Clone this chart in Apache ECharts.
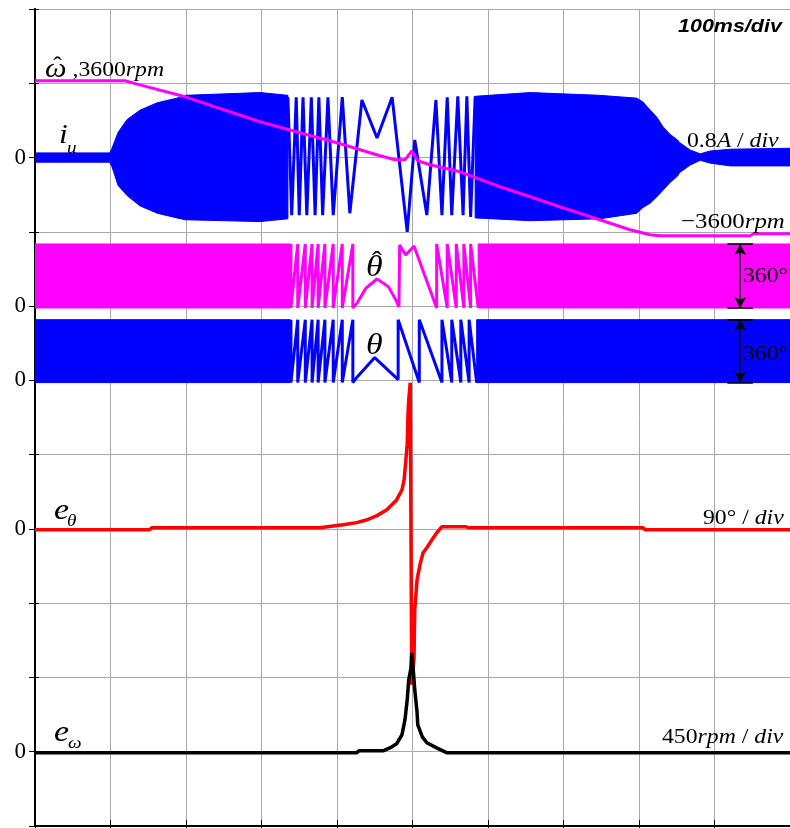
<!DOCTYPE html>
<html>
<head>
<meta charset="utf-8">
<script src="https://cdn.jsdelivr.net/npm/echarts@6/dist/echarts.min.js"></script>
<style>
html, body { margin: 0; padding: 0; background: #fff; }
#chart { width: 790px; height: 828px; }
</style>
</head>
<body>
<div id="chart"></div>
<script>
// time axis in ms, 100 ms/div

// i_u [A], dense part drawn as envelope
var iuLeftT = [0, 99, 102, 110, 122, 139, 162, 188, 199, 298, 335];
var iuLeftHi = [0.05, 0.05, 0.10, 0.27, 0.41, 0.51, 0.59, 0.64, 0.67, 0.70, 0.67];
var iuLeftLo = [-0.05, -0.05, -0.10, -0.30, -0.41, -0.52, -0.60, -0.65, -0.67, -0.69, -0.66];
var iuMidT = [335, 340, 346, 350, 355, 360, 366, 371, 376, 381, 388, 395, 407, 417, 433, 453, 473, 493, 503, 519, 531, 539, 546, 552, 560, 567, 572, 577, 583];
var iuMidV = [0.65, -0.62, 0.65, -0.62, 0.65, -0.62, 0.65, -0.62, 0.65, -0.62, 0.65, -0.62, 0.65, -0.60, 0.62, 0.21, 0.65, -0.80, 0.19, -0.62, 0.62, -0.62, 0.65, -0.62, 0.66, -0.62, 0.66, -0.64, 0.66];
var iuRightT = [583, 656, 748, 797, 805, 815, 824, 832, 841, 851, 854, 868, 881, 894, 921, 1000];
var iuRightHi = [0.66, 0.70, 0.67, 0.64, 0.60, 0.51, 0.43, 0.33, 0.25, 0.19, 0.16, 0.08, 0.04, 0.07, 0.09, 0.10];
var iuRightLo = [-0.65, -0.68, -0.66, -0.60, -0.54, -0.49, -0.42, -0.35, -0.27, -0.20, -0.16, -0.08, -0.03, -0.06, -0.09, -0.09];

// estimated speed [rpm]
var wT = [0, 119, 139, 199, 298, 351, 400, 457, 477, 490, 499, 507, 523, 563, 616, 656, 695, 748, 788, 815, 828, 947, 952, 1000];
var wV = [3600, 3600, 3410, 2855, 1695, 1184, 720, 116, -70, -70, 348, -116, -302, -627, -1323, -1788, -2252, -2855, -3320, -3552, -3600, -3600, -3505, -3505];

// estimated angle [deg]
var thHatLeftT = [0, 338];
var thHatRightT = [587, 1000];
var thHatMidT = [339, 339, 348, 348, 358, 358, 367, 367, 375, 375, 384, 384, 395, 395, 407, 407, 421, 421, 427, 438, 453, 468, 478, 482, 483, 491, 502, 532, 532, 546, 546, 558, 558, 568, 568, 577, 577, 587];
var thHatMidV = [360, 0, 360, 0, 360, 0, 360, 0, 360, 0, 360, 0, 360, 0, 360, 0, 360, 0, 30, 110, 163, 120, 45, 5, 354, 298, 349, 0, 360, 0, 360, 0, 360, 0, 360, 0, 360, 0];

// real angle [deg]
var thLeftT = [0, 338];
var thRightT = [585, 1000];
var thMidT = [339, 339, 348, 348, 358, 358, 367, 367, 375, 375, 384, 384, 395, 395, 407, 407, 421, 421, 427, 450, 481, 481, 509, 509, 539, 539, 552, 552, 564, 564, 575, 575, 585];
var thMidV = [360, 0, 360, 0, 360, 0, 360, 0, 360, 0, 360, 0, 360, 0, 360, 0, 360, 0, 34, 143, 17, 360, 0, 360, 0, 360, 0, 360, 0, 360, 0, 360, 0];

// angle error [deg]
var eThT = [0, 152, 155, 377, 408, 426, 440, 453, 466, 479, 486, 489, 491, 493, 494, 495, 497, 498, 499, 502, 503, 506, 510, 514, 519, 526, 532, 539, 570, 574, 805, 808, 1000];
var eThV = [0, 0, 2.4, 2.4, 6, 8.5, 12, 17, 24, 36, 48, 61, 82, 103, 139, 157, 178, 178, -188, -157, -97, -61, -42, -28, -22, -12, -4, 3.6, 3.6, 2.4, 2.4, 0, 0];

// speed error [rpm]
var eWT = [0, 426, 429, 461, 470, 479, 486, 490, 493, 495, 498, 499, 501, 503, 506, 507, 513, 519, 532, 543, 546, 1000];
var eWV = [0, 0, 12, 12, 30, 55, 109, 200, 321, 442, 515, 606, 503, 382, 248, 170, 97, 61, 30, 6, 0, 0];

// zero level of each trace (in divisions from the bottom) and units per division
var zeroLvl = { iu: 9, w: 8.99, thH: 6.975, th: 5.97, eTh: 3.99, eW: 0.985 };
var perDiv = { iu: 0.8, w: 3450, thH: 418, th: 425, eTh: 90, eW: 450 };

function toDiv (v, k) { return zeroLvl[k] + v / perDiv[k] }
function pts (T, V, k) { return T.map(function (t, i) { return [t, toDiv(V[i], k)] }) }
function fill (n, v) { var a = []; for (var i = 0; i < n; i++) a.push(v); return a }

function band (T, hi, lo, k, color) {
  return {
    type: 'custom',
    silent: true,
    clip: true,
    data: [[T[0], zeroLvl[k]]],
    renderItem: function (params, api) {
      var p = []
      for (var i = 0; i < T.length; i++) p.push(api.coord([T[i], toDiv(hi[i], k)]))
      for (var j = T.length - 1; j >= 0; j--) p.push(api.coord([T[j], toDiv(lo[j], k)]))
      return { type: 'polygon', shape: { points: p }, style: { fill: color, stroke: color, lineWidth: 1 } }
    }
  }
}

function trace (data, color, w, extra) {
  var s = {
    type: 'line',
    data: data,
    symbol: 'none',
    silent: true,
    lineStyle: { color: color, width: w },
    animation: false
  }
  if (extra) s.markLine = extra
  return s
}

var BLUE = '#0000ff'
var PINK = '#ff00ff'
var RED = '#ff0000'

// 360 degree arrows
var arrX = 934
var barX = [917, 951]
var arrows = {
  silent: true,
  symbol: ['arrow', 'arrow'],
  symbolSize: [9, 11],
  label: { show: false },
  lineStyle: { color: '#000', width: 1.5, type: 'solid' },
  data: [
    [{ coord: [arrX, toDiv(0, 'thH')] }, { coord: [arrX, toDiv(360, 'thH')] }],
    [{ coord: [arrX, toDiv(0, 'th')] }, { coord: [arrX, toDiv(360, 'th')] }],
    [{ coord: [barX[0], toDiv(0, 'thH')], symbol: 'none' }, { coord: [barX[1], toDiv(0, 'thH')], symbol: 'none' }],
    [{ coord: [barX[0], toDiv(360, 'thH')], symbol: 'none' }, { coord: [barX[1], toDiv(360, 'thH')], symbol: 'none' }],
    [{ coord: [barX[0], toDiv(0, 'th')], symbol: 'none' }, { coord: [barX[1], toDiv(0, 'th')], symbol: 'none' }],
    [{ coord: [barX[0], toDiv(360, 'th')], symbol: 'none' }, { coord: [barX[1], toDiv(360, 'th')], symbol: 'none' }]
  ]
}

var SERIF = '"Liberation Serif", "Times New Roman", Times, serif'
var SANS = '"Liberation Sans", Arial, sans-serif'
var SX = 1.13
function txt (x, y, text, size, opt) {
  opt = opt || {}
  return {
    type: 'text',
    x: x,
    y: y,
    scaleX: SX,
    silent: true,
    z: 100,
    style: {
      text: text,
      fontFamily: opt.family || SERIF,
      fontSize: size,
      fontStyle: opt.italic ? 'italic' : 'normal',
      fontWeight: opt.bold ? 'bold' : 'normal',
      fill: '#000',
      verticalAlign: 'middle',
      rich: {
        i: { fontFamily: opt.family || SERIF, fontSize: size, fontStyle: 'italic' },
        w: { fontFamily: SERIF, fontSize: 27, fontStyle: 'italic' }
      }
    }
  }
}

var zeroLabels = [1, 4, 6, 7, 9]

var myChart = echarts.init(document.getElementById('chart'))
var option = {
  animation: false,
  backgroundColor: '#fff',
  grid: { left: 35, right: 0, top: 9, bottom: 2 },
  xAxis: [
    {
      type: 'value',
      min: 0,
      max: 1000,
      interval: 100,
      position: 'top',
      axisLine: { show: true, lineStyle: { color: '#000', width: 2 } },
      axisTick: { show: true, inside: true, length: 4, lineStyle: { color: '#000' } },
      axisLabel: { show: false },
      splitLine: { show: true, lineStyle: { color: '#a8a8a8', width: 1 } }
    },
    {
      type: 'value',
      min: 0,
      max: 1000,
      interval: 100,
      position: 'bottom',
      axisLine: { show: false },
      axisTick: { show: true, inside: true, length: 6, lineStyle: { color: '#000' } },
      axisLabel: { show: false },
      splitLine: { show: false }
    }
  ],
  yAxis: [
    {
      type: 'value',
      min: 0,
      max: 11,
      interval: 1,
      axisLine: { show: true, lineStyle: { color: '#000', width: 2 } },
      axisTick: { show: true, inside: true, length: 4, lineStyle: { color: '#000' } },
      axisLabel: {
        margin: 9,
        color: '#000',
        fontFamily: SERIF,
        fontSize: 23,
        formatter: function (v) { return zeroLabels.indexOf(v) >= 0 ? '0' : '' }
      },
      splitLine: { show: true, lineStyle: { color: '#a8a8a8', width: 1 } }
    },
    {
      type: 'value',
      min: 0,
      max: 11,
      interval: 1,
      position: 'right',
      axisLine: { show: true, lineStyle: { color: '#000', width: 2 } },
      axisTick: { show: true, inside: true, length: 6, lineStyle: { color: '#000' } },
      axisLabel: { show: false },
      splitLine: { show: false }
    }
  ],
  series: [
    band(iuLeftT, iuLeftHi, iuLeftLo, 'iu', BLUE),
    band(iuRightT, iuRightHi, iuRightLo, 'iu', BLUE),
    trace(pts(iuMidT, iuMidV, 'iu'), BLUE, 3),
    trace(pts(wT, wV, 'w'), PINK, 3),
    band(thHatLeftT, fill(2, 360), fill(2, 0), 'thH', PINK),
    band(thHatRightT, fill(2, 360), fill(2, 0), 'thH', PINK),
    trace(pts(thHatMidT, thHatMidV, 'thH'), PINK, 3, arrows),
    band(thLeftT, fill(2, 360), fill(2, 0), 'th', BLUE),
    band(thRightT, fill(2, 360), fill(2, 0), 'th', BLUE),
    trace(pts(thMidT, thMidV, 'th'), BLUE, 3),
    trace(pts(eThT, eThV, 'eTh'), RED, 3.5),
    trace(pts(eWT, eWV, 'eW'), '#000', 3.5)
  ],
  graphic: [
    txt(45, 70, '{w|ω} ,3600{i|rpm}', 21),
    txt(53, 67, 'ˆ', 24),
    txt(59, 136, 'i', 28, { italic: true }),
    txt(67, 149, 'u', 17, { italic: true }),
    txt(678, 27, '100ms/div', 19, { family: SANS, italic: true, bold: true }),
    txt(687, 141, '0.8{i|A} / {i|div}', 21),
    txt(681, 222, '−3600{i|rpm}', 22),
    txt(366, 268, 'θ', 30, { italic: true }),
    txt(372, 262, 'ˆ', 26),
    txt(366, 346, 'θ', 30, { italic: true }),
    txt(743, 276, '360°', 21),
    txt(743, 354, '360°', 21),
    txt(54, 511, 'e', 30, { italic: true }),
    txt(67, 522, 'θ', 17, { italic: true }),
    txt(703, 518, '90° / {i|div}', 21),
    txt(54, 733, 'e', 30, { italic: true }),
    txt(68, 744, 'ω', 17, { italic: true }),
    txt(662, 737, '450{i|rpm} / {i|div}', 21)
  ]
}
myChart.setOption(option, true)
</script>
</body>
</html>
